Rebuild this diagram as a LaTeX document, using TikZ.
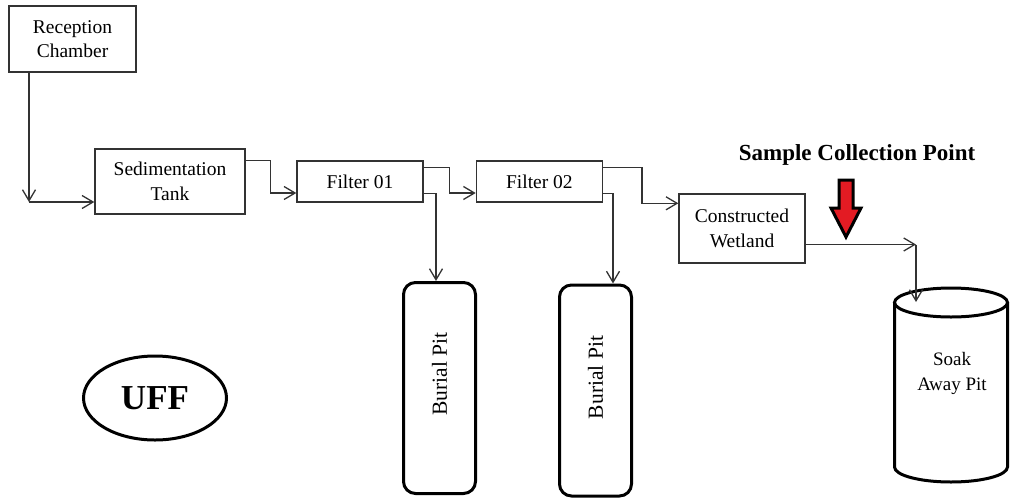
\documentclass[tikz,border=0pt]{standalone}
\usepackage{fontspec}
\setmainfont{Liberation Serif}
\usepackage{xcolor}
\usepackage{tikz}
\usetikzlibrary{positioning}
\usetikzlibrary{shapes.geometric, arrows.meta}

\definecolor{sampleRed}{HTML}{E31B23}

\begin{document}
\begin{tikzpicture}[
    x=1pt, y=-1pt,
    stage/.style={
        rectangle,
        draw=black!80,
        line width=1.4pt,
        text centered,
        align=center,
        inner sep=0pt,
        font=\fontsize{19.5}{24.5}\selectfont
    },
    pit/.style={
        rectangle,
        rounded corners=12pt,
        draw=black,
        line width=3pt,
        minimum width=72pt,
        minimum height=211pt,
        inner sep=0pt,
        font=\fontsize{21.5}{24}\selectfont
    },
    flow/.style={
        -{Straight Barb[length=11pt,width=13pt]},
        draw=black!80,
        line width=1.3pt
    }
]

\useasboundingbox (0,0) rectangle (1010,499);

\node[stage, minimum width=127pt, minimum height=66pt] (receptionChamber) at (72.5,39) {Reception\\Chamber};
\node[stage, minimum width=150pt, minimum height=65pt] (sedimentationTank) at (170,181.5) {Sedimentation\\Tank};
\node[stage, minimum width=126pt, minimum height=41pt] (filterOne) at (360,181.5) {Filter 01};
\node[stage, minimum width=126pt, minimum height=41pt] (filterTwo) [right=52pt of filterOne] {Filter 02};
\node[stage, minimum width=126pt, minimum height=69pt] (wetland) at (742,228.5) {Constructed\\Wetland};

\node[pit] (burialPitA) at (439.5,388) {\rotatebox{90}{\hspace{28pt}Burial Pit}};
\node[pit] (burialPitB) at (595.5,390.5) {\rotatebox{90}{\hspace{26pt}Burial Pit}};

\node[ellipse, draw=black, line width=3pt, minimum width=143pt, minimum height=84pt,
    font=\bfseries\fontsize{35}{40}\selectfont] (uff) at (155,398) {UFF};

\node[font=\bfseries\fontsize{23}{26}\selectfont] (samplePoint) at (857,155) {Sample Collection Point};

\draw[fill=sampleRed, draw=black, line width=3pt, line join=miter]
    (839,180) -- (853,180) -- (853,208) -- (861,208) -- (846,237) -- (831,208) -- (839,208) -- cycle;

\draw[line width=3pt] (894.5,302.5) -- (894.5,467)
    arc[start angle=180, end angle=360, x radius=56.5pt, y radius=15pt] -- (1007.5,302.5);
\draw[line width=3pt] (951,302.5) ellipse[x radius=56.5pt, y radius=14.5pt];
\node[font=\fontsize{19}{25}\selectfont, align=center] (soakPit) at (952,373.5) {Soak\\Away Pit};

\coordinate (inletCorner) at (29,202);
\coordinate (outletCorner) at (916,244.5);
\coordinate (soakInlet) at (916,302);

\draw[flow] (inletCorner |- receptionChamber.south) -- (inletCorner);
\draw[flow] (inletCorner) -- (inletCorner -| sedimentationTank.west);
\draw[flow] ([yshift=-12pt]sedimentationTank.north east) -- ++(25,0) |- ([yshift=-11.5pt]filterOne.west);
\draw[flow] ([yshift=-7pt]filterOne.north east) -- ++(26,0) |- ([yshift=-11.5pt]filterTwo.west);
\draw[flow] ([yshift=9pt]filterOne.south east) -| ([xshift=-3.5pt]burialPitA.north);
\draw[flow] ([yshift=-7pt]filterTwo.north east) -- ++(39,0) |- ([yshift=-10pt]wetland.north west);
\draw[flow] ([yshift=9pt]filterTwo.south east) -| ([xshift=17.5pt]burialPitB.north);
\draw[flow] (wetland.east |- outletCorner) -- (outletCorner);
\draw[flow] (outletCorner) -- (soakInlet);

\end{tikzpicture}
\end{document}
